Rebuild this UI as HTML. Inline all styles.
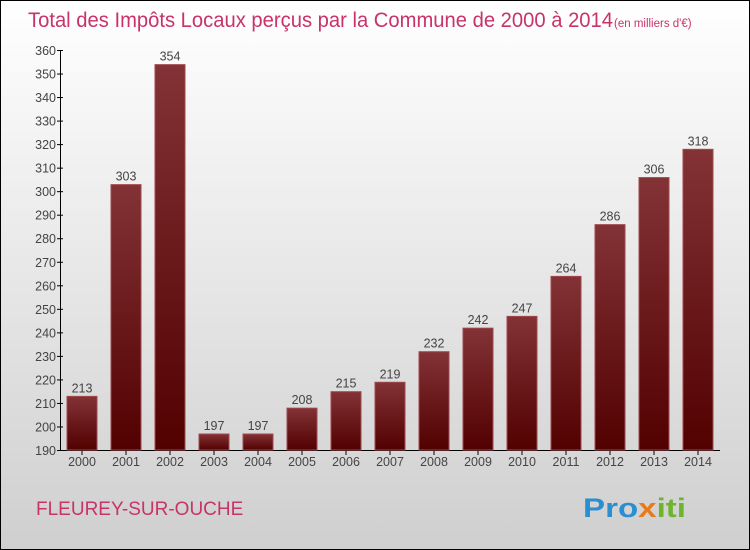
<!DOCTYPE html>
<html><head><meta charset="utf-8"><style>
body{margin:0}
#c{position:relative;width:748px;height:548px;border:1px solid #000;background:linear-gradient(#ffffff,#cfcfcf);font-family:"Liberation Sans",sans-serif;overflow:hidden}
</style></head><body>
<div id="c">
<svg width="748" height="548" viewBox="1 1 748 548" id="svg">
<defs><linearGradient id="g" x1="0" y1="0" x2="0" y2="1"><stop offset="0" stop-color="#833236"/><stop offset="1" stop-color="#520000"/></linearGradient></defs>
<text x="28" y="27" font-size="21" fill="#c8336a" textLength="585" lengthAdjust="spacingAndGlyphs">Total des Impôts Locaux perçus par la Commune de 2000 à 2014</text>
<text x="614" y="27" font-size="11.5" fill="#c8336a">(en milliers d'€)</text>
<text x="36" y="515" font-size="19" fill="#c8336a">FLEUREY-SUR-OUCHE</text>
<g font-size="27" font-weight="bold"><text x="583" y="517" textLength="103" lengthAdjust="spacingAndGlyphs"><tspan fill="#2a8fd0">Pro</tspan><tspan fill="#e87a1a">x</tspan><tspan fill="#6cb52d">iti</tspan></text></g>
<g id="axes"></g><g id="bars"></g>
</svg>
</div>
<script>
const categories=["2000","2001","2002","2003","2004","2005","2006","2007","2008","2009","2010","2011","2012","2013","2014"];
const values=[213,303,354,197,197,208,215,219,232,242,247,264,286,306,318];
const yTicks=[190,200,210,220,230,240,250,260,270,280,290,300,310,320,330,340,350,360];
const NS="http://www.w3.org/2000/svg";
const y=v=>450.5-(v-190)*(400/170);
const x=i=>82+44*i;
function mk(t,a,p){const e=document.createElementNS(NS,t);for(const k in a)e.setAttribute(k,a[k]);p.appendChild(e);return e;}
const ax=document.getElementById('axes'),bg=document.getElementById('bars');
const yl=mk('line',{x1:60.5,x2:60.5,y1:y(360),y2:450.5,stroke:'#000'},ax);


const xl=mk('line',{x1:60,x2:720,y1:450.5,y2:450.5,stroke:'#000'},ax);


yTicks.forEach(v=>{
 mk('line',{x1:57,x2:63,y1:y(v),y2:y(v),stroke:'#000'},ax);
 const t=mk('text',{x:56,y:y(v)+4.5,'text-anchor':'end','font-size':12.5,fill:'#444'},ax);t.textContent=v;
 
 
});
categories.forEach((c,i)=>{
 mk('line',{x1:x(i),x2:x(i),y1:450,y2:455,stroke:'#000'},ax);
 const t=mk('text',{x:x(i),y:466,'text-anchor':'middle','font-size':12.5,fill:'#444'},ax);t.textContent=c;
 
 
 const r=mk('rect',{x:x(i)-15,y:y(values[i]),width:30,height:450-y(values[i]),fill:'url(#g)',stroke:'#a04a4e','stroke-width':1},bg);
 
 
 const l=mk('text',{x:x(i),y:y(values[i])-4,'text-anchor':'middle','font-size':12.5,fill:'#444'},bg);l.textContent=values[i];
 
 
});
</script>
</body></html>
